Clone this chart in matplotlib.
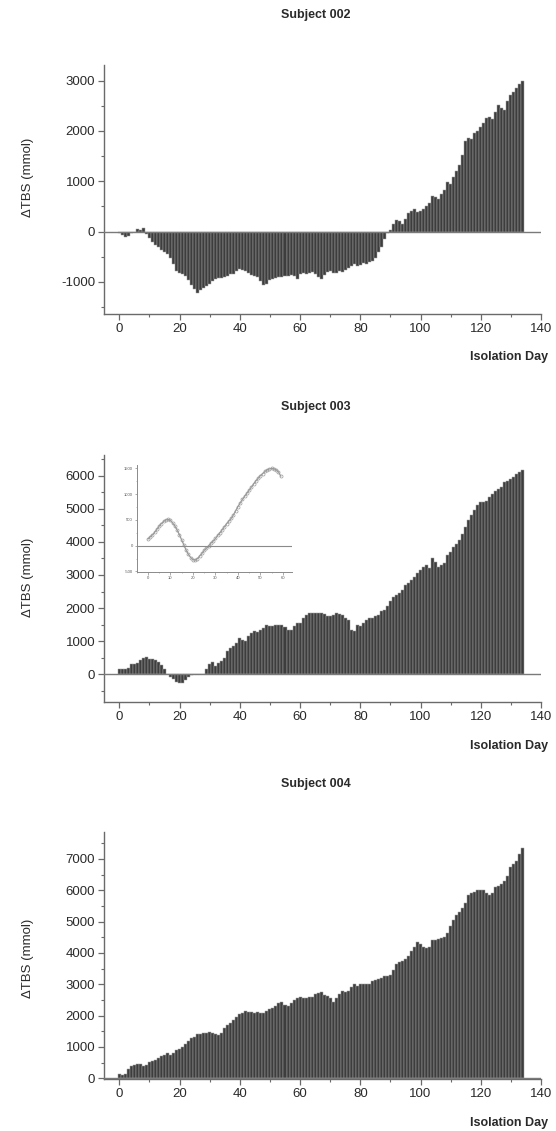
import numpy as np
import matplotlib
matplotlib.use("Agg")
import matplotlib.pyplot as plt
from matplotlib.ticker import MultipleLocator

plt.rcParams['font.family'] = ['Liberation Sans', 'DejaVu Sans']
plt.rcParams['axes.unicode_minus'] = False

days = list(range(135))

tbs_002 = [-20, -60, -100, -80, -30, 0, 40, 30, 65, -40,
           -130, -200, -260, -310, -360, -400, -440, -530, -640, -780,
           -830, -850, -880, -960, -1060, -1150, -1230, -1170, -1120, -1080,
           -1050, -980, -940, -920, -930, -900, -890, -850, -840, -790,
           -740, -760, -780, -820, -870, -890, -900, -980, -1070, -1050,
           -970, -940, -920, -910, -900, -880, -890, -870, -880, -950,
           -840, -830, -850, -820, -800, -840, -900, -940, -860, -800,
           -790, -820, -830, -780, -800, -760, -720, -690, -650, -680,
           -670, -620, -650, -600, -590, -520, -400, -300, -150, -20,
           30, 150, 230, 210, 150, 250, 370, 400, 440, 380,
           400, 450, 500, 560, 700, 680, 650, 740, 820, 980,
           950, 1080, 1200, 1320, 1520, 1800, 1860, 1830, 1950, 2000,
           2080, 2150, 2250, 2280, 2240, 2380, 2520, 2460, 2410, 2600,
           2720, 2780, 2850, 2940, 2990]

tbs_003 = [150, 150, 160, 200, 300, 320, 350, 420, 500, 510,
           470, 450, 430, 360, 280, 150, 0, -80, -150, -220,
           -270, -250, -170, -80, -20, 20, 20, 20, 20, 150,
           300, 380, 250, 350, 400, 500, 700, 800, 850, 950,
           1100, 1050, 1000, 1150, 1250, 1300, 1280, 1350, 1400, 1480,
           1450, 1470, 1500, 1500, 1480, 1420, 1330, 1350, 1450, 1550,
           1550, 1700, 1800, 1850, 1850, 1850, 1850, 1850, 1820, 1750,
           1750, 1800, 1850, 1820, 1780, 1700, 1650, 1350, 1300, 1500,
           1450, 1550, 1650, 1700, 1700, 1750, 1800, 1900, 1950, 2050,
           2200, 2350, 2400, 2450, 2550, 2700, 2750, 2850, 2950, 3050,
           3150, 3250, 3300, 3200, 3500, 3400, 3250, 3300, 3350, 3600,
           3700, 3850, 3950, 4050, 4250, 4450, 4650, 4800, 4950, 5100,
           5200, 5200, 5250, 5350, 5450, 5550, 5600, 5650, 5800, 5850,
           5900, 5950, 6050, 6100, 6170]

tbs_004 = [140, 100, 150, 300, 380, 420, 470, 450, 400, 430,
           520, 550, 600, 650, 700, 730, 800, 760, 820, 900,
           950, 1000, 1100, 1200, 1300, 1330, 1400, 1430, 1450, 1450,
           1480, 1450, 1400, 1380, 1450, 1600, 1700, 1750, 1850, 1950,
           2050, 2100, 2150, 2120, 2130, 2100, 2120, 2100, 2100, 2150,
           2200, 2250, 2300, 2400, 2450, 2350, 2300, 2400, 2500, 2550,
           2580, 2550, 2560, 2600, 2600, 2700, 2720, 2750, 2650, 2620,
           2550, 2450, 2550, 2700, 2800, 2750, 2800, 2900, 3000, 2950,
           3020, 3000, 3000, 3020, 3100, 3150, 3180, 3200, 3250, 3250,
           3300, 3450, 3650, 3700, 3750, 3800, 3900, 4050, 4200, 4350,
           4300, 4200, 4150, 4200, 4400, 4400, 4450, 4480, 4500, 4650,
           4850, 5050, 5200, 5300, 5450, 5600, 5850, 5900, 5950, 6000,
           6000, 6000, 5900, 5850, 5900, 6100, 6150, 6200, 6300, 6450,
           6750, 6850, 6950, 7150, 7350]

inset_days = list(range(60))
inset_vals = [130, 170, 210, 260, 320, 380, 430, 470, 500, 510,
              490, 440, 380, 300, 210, 110, 10, -90, -170, -230,
              -270, -280, -250, -200, -150, -90, -50, 0, 50, 90,
              140, 200, 250, 310, 370, 430, 480, 530, 600, 680,
              760, 830, 900, 960, 1020, 1080, 1140, 1200, 1260, 1310,
              1360, 1400, 1440, 1470, 1490, 1500, 1490, 1470, 1430, 1350]

titles = ['Subject 002', 'Subject 003', 'Subject 004']
x_ticks = [0, 20, 40, 60, 80, 100, 120, 140]
y_ticks_002 = [-1000, 0, 1000, 2000, 3000]
y_ticks_003 = [0, 1000, 2000, 3000, 4000, 5000, 6000]
y_ticks_004 = [0, 1000, 2000, 3000, 4000, 5000, 6000, 7000]
inset_xticks = [0, 10, 20, 30, 40, 50, 60]
inset_yticks = [-500, 0, 500, 1000, 1500]

W, H = 556, 1131
fig = plt.figure(figsize=(W / 100, H / 100), dpi=100)


def rect(l, t, r, b):
    return [l / W, 1 - b / H, (r - l) / W, (b - t) / H]


SPC = '#6a6a6a'
TXT = '#2a2a2a'


def style(ax, yticks, ylim):
    ax.set_xlim(-5, 140)
    ax.set_ylim(*ylim)
    for s in ['top', 'right']:
        ax.spines[s].set_visible(False)
    for s in ['left', 'bottom']:
        ax.spines[s].set_color(SPC)
        ax.spines[s].set_linewidth(1.0)
    ax.set_xticks(x_ticks)
    ax.set_yticks(yticks)
    ax.xaxis.set_minor_locator(MultipleLocator(10))
    ax.yaxis.set_minor_locator(MultipleLocator(500))
    ax.tick_params(which='major', direction='out', length=4, width=0.9,
                   color=SPC, labelsize=9.5, labelcolor=TXT, pad=2.5)
    ax.tick_params(which='minor', direction='out', length=2, width=0.8, color=SPC)
    ax.axhline(0, color='#7a7a7a', lw=1.0, zorder=3)


def bars(ax, vals):
    ax.bar(days, vals, width=1.0, color='#3d3d3d', edgecolor='#a0a0a0',
           linewidth=0.35, zorder=2)


ax1 = fig.add_axes(rect(104.3, 65, 541, 313.5))
bars(ax1, tbs_002)
style(ax1, y_ticks_002, (-1630, 3310))

ax2 = fig.add_axes(rect(104.3, 455, 541, 702.3))
bars(ax2, tbs_003)
style(ax2, y_ticks_003, (-846, 6625))

ax3 = fig.add_axes(rect(104.3, 832, 541, 1078.8))
bars(ax3, tbs_004)
style(ax3, y_ticks_004, (-15, 7860))

# inset
axi = fig.add_axes(rect(136.7, 465, 292, 572))
axi.patch.set_alpha(0)
axi.plot(inset_days, inset_vals, color='#9a9a9a', lw=0.9, marker='o', ms=2.2,
         mfc='none', mec='#9a9a9a', mew=0.5)
axi.axhline(0, color='#8a8a8a', lw=0.8)
axi.set_xlim(-5, 64)
axi.set_ylim(-510, 1565)
for s in ['top', 'right']:
    axi.spines[s].set_visible(False)
for s in ['left', 'bottom']:
    axi.spines[s].set_color('#8a8a8a')
    axi.spines[s].set_linewidth(0.7)
axi.set_xticks(inset_xticks)
axi.set_yticks(inset_yticks)
axi.xaxis.set_minor_locator(MultipleLocator(5))
axi.yaxis.set_minor_locator(MultipleLocator(250))
axi.tick_params(which='major', direction='out', length=1.8, width=0.5,
                color='#8a8a8a', labelsize=3, labelcolor='#555555', pad=1)
axi.tick_params(which='minor', direction='out', length=1, width=0.4, color='#8a8a8a')

# titles and labels
title_y = [15, 406.7, 784]
xlabel_y = [357, 746, 1122.7]
ylabel_y = [177, 577, 958]
for t, ty, xy, yy in zip(titles, title_y, xlabel_y, ylabel_y):
    fig.text(316 / W, 1 - ty / H, t, ha='center', va='center',
             fontsize=9, fontweight='bold', color=TXT)
    fig.text(548 / W, 1 - xy / H, 'Isolation Day', ha='right', va='center',
             fontsize=9, fontweight='bold', color=TXT)
    fig.text(28 / W, 1 - yy / H, '\u0394TBS (mmol)', ha='center', va='center',
             rotation=90, fontsize=9.5, color=TXT)

fig.savefig('out.png', dpi=100)
